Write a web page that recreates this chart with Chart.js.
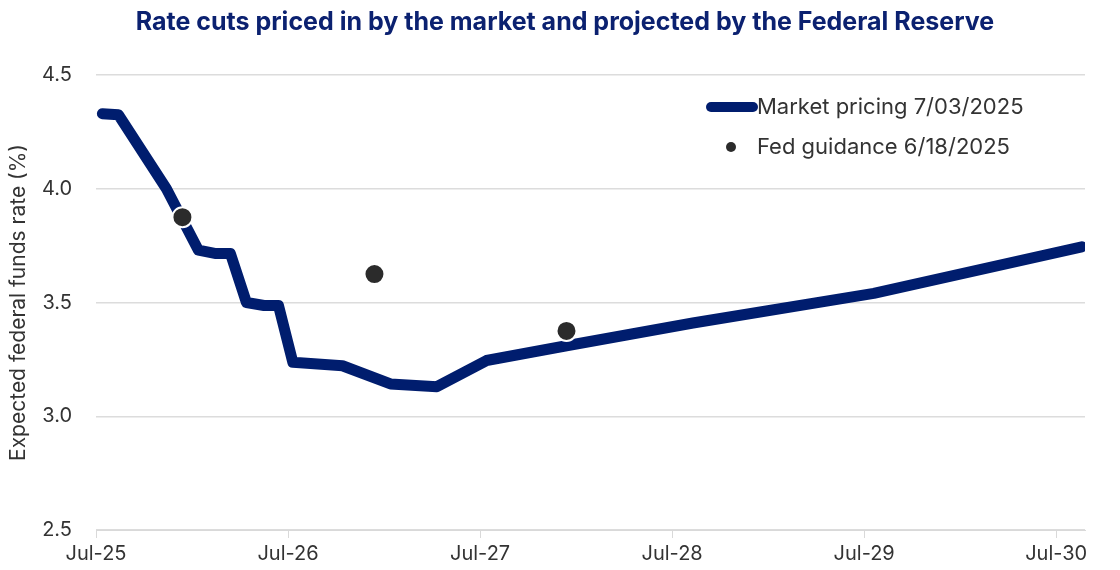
<!DOCTYPE html>
<html>
<head>
<meta charset="utf-8">
<script src="https://cdn.jsdelivr.net/npm/chart.js@4.4.1/dist/chart.umd.min.js"></script>
<style>
  html, body { margin: 0; padding: 0; background: #fff; }
  #wrap { width: 1120px; height: 570px; }
</style>
</head>
<body>
<div id="wrap"><canvas id="chart"></canvas></div>
<script>
// months counted from Jul-25
const tickMonths = [0, 12, 24, 36, 48, 60];
const tickLabels = ["Jul-25", "Jul-26", "Jul-27", "Jul-28", "Jul-29", "Jul-30"];

const marketMonths = [0.4, 1.4, 4.4, 6.4, 7.5, 8.4, 9.4, 10.5, 11.4, 12.3, 15.4, 18.4, 21.3, 24.4, 29.4, 37.3, 48.6, 61.6];
const marketRates = [4.33, 4.325, 4.0, 3.73, 3.715, 3.715, 3.5, 3.487, 3.487, 3.237, 3.222, 3.142, 3.13, 3.245, 3.31, 3.41, 3.54, 3.745];

const fedMonths = [5.4, 17.4, 29.4];
const fedRates = [3.875, 3.625, 3.375];

const TITLE = "Rate cuts priced in by the market and projected by the Federal Reserve";
const NAVY = "#001d6e";
const DOT = "#2b2b2b";
const TEXT = "#333333";
const FONT = "Inter, 'Noto Sans', sans-serif";

function toPoints(xs, ys) {
  return xs.map((x, i) => ({ x: x, y: ys[i] }));
}

// title centred on the whole canvas, not on the padded box
const pageTitle = {
  id: "pageTitle",
  afterDraw(chart) {
    const ctx = chart.ctx;
    ctx.save();
    ctx.font = "bold 25px " + FONT;
    ctx.fillStyle = "#0b2170";
    ctx.textAlign = "center";
    ctx.textBaseline = "middle";
    ctx.fillText(TITLE, chart.width / 2 + 5, 22);
    ctx.restore();
  }
};

// simple legend drawn in the upper right of the plot
const cornerLegend = {
  id: "cornerLegend",
  afterDraw(chart) {
    const ctx = chart.ctx;
    const area = chart.chartArea;
    const ds = chart.data.datasets;
    const textX = area.right - 328;
    ctx.save();
    ctx.font = "22px " + FONT;
    ctx.fillStyle = TEXT;
    ctx.textBaseline = "middle";

    let y = area.top + 32;
    ctx.strokeStyle = ds[0].borderColor;
    ctx.lineWidth = 10;
    ctx.lineCap = "round";
    ctx.beginPath();
    ctx.moveTo(textX - 46, y);
    ctx.lineTo(textX - 4, y);
    ctx.stroke();
    ctx.fillText(ds[0].label, textX, y);

    y = area.top + 72;
    ctx.fillStyle = ds[1].pointBackgroundColor;
    ctx.beginPath();
    ctx.arc(textX - 26, y, 5, 0, Math.PI * 2);
    ctx.fill();
    ctx.fillStyle = TEXT;
    ctx.fillText(ds[1].label, textX, y);
    ctx.restore();
  }
};

new Chart(document.getElementById("chart"), {
  type: "line",
  data: {
    datasets: [
      {
        label: "Market pricing 7/03/2025",
        data: toPoints(marketMonths, marketRates),
        borderColor: NAVY,
        borderWidth: 11,
        borderCapStyle: "round",
        borderJoinStyle: "round",
        pointRadius: 0,
        tension: 0,
        order: 1
      },
      {
        label: "Fed guidance 6/18/2025",
        data: toPoints(fedMonths, fedRates),
        showLine: false,
        pointRadius: 10,
        pointBackgroundColor: DOT,
        pointBorderColor: "#ffffff",
        pointBorderWidth: 2,
        order: 0
      }
    ]
  },
  options: {
    responsive: true,
    maintainAspectRatio: false,
    animation: false,
    layout: { padding: { left: 0, right: 35, top: 75, bottom: 0 } },
    plugins: {
      legend: { display: false },
      tooltip: { enabled: false },
      title: { display: false }
    },
    scales: {
      x: {
        type: "linear",
        min: 0,
        max: 61.8,
        afterBuildTicks(scale) {
          scale.ticks = tickMonths.map((v) => ({ value: v }));
        },
        ticks: {
          color: TEXT,
          font: { family: FONT, size: 20 },
          padding: 4,
          maxRotation: 0,
          callback: (v) => tickLabels[tickMonths.indexOf(v)]
        },
        grid: { drawOnChartArea: false, color: "#d9d9d9", tickLength: 8 },
        border: { color: "#d9d9d9" }
      },
      y: {
        min: 2.5,
        max: 4.5,
        afterFit(scale) { scale.width = 96; },
        ticks: {
          stepSize: 0.5,
          color: TEXT,
          font: { family: FONT, size: 20 },
          padding: 24,
          callback: (v) => v.toFixed(1)
        },
        grid: { color: "#dcdcdc", drawTicks: false, lineWidth: 1.5 },
        border: { display: false },
        title: {
          display: true,
          text: "Expected federal funds rate (%)",
          color: TEXT,
          font: { family: FONT, size: 21 },
          padding: { top: 6, bottom: 0 }
        }
      }
    }
  },
  plugins: [pageTitle, cornerLegend]
});
</script>
</body>
</html>
